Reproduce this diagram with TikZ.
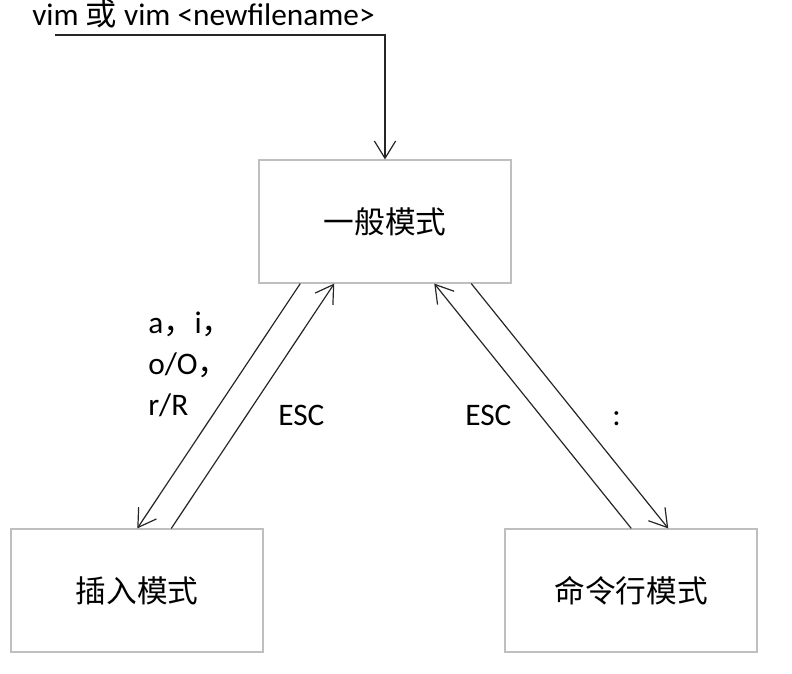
\documentclass[tikz,border=0pt]{standalone}
\usepackage{fontspec}
\setmainfont{Carlito}
\newfontfamily\cjk{Noto Sans CJK SC}
\usetikzlibrary{arrows.meta,calc}
\begin{document}
\begin{tikzpicture}[x=0.75pt,y=-0.75pt,
  modebox/.style={draw=black!25,line width=1.1pt,minimum width=189pt,minimum height=92pt,inner sep=0pt,font=\fontsize{23}{27}\cjk},
  conn/.style={draw=black!85,line width=0.9pt,-{Straight Barb[length=13pt,width=16pt,line width=0.9pt]}},
  lbl/.style={font=\fontsize{23.5}{28}\selectfont,inner sep=0pt}]
\useasboundingbox (0,0) rectangle (792,674);
\node[lbl,anchor=base west] (title) at (32,26) {vim {\cjk 或} vim <newfilename>};
\node[modebox] (normal) at (385,221.5) {一般模式};
\node[modebox] (insert) at (137,590.5) {插入模式};
\node[modebox] (cmd) at (631,590.5) {命令行模式};
\coordinate (start) at (55,35);
\draw[conn] (start) -- (start -| normal.north) -- (normal.north);
% left pair
\draw[conn] ([xshift=31.5pt]normal.south west) -- ([xshift=95.25pt]insert.north west);
\draw[conn] ([xshift=120.75pt]insert.north west) -- ([xshift=57pt]normal.south west);
% right pair
\draw[conn] ([xshift=95.25pt]cmd.north west) -- ([xshift=132pt]normal.south west);
\draw[conn] ([xshift=159.75pt]normal.south west) -- ([xshift=123pt]cmd.north west);
\node[lbl,anchor=base west] (l1) at (148,333) {a{\cjk ，}i{\cjk ，}};
\node[lbl,anchor=base west] (l2) at (148,374) {o/O{\cjk ，}};
\node[lbl,anchor=base west] (l3) at (148,415) {r/R};
\node[lbl,anchor=base west] (esc1) at (278,425) {ESC};
\node[lbl,anchor=base west] (esc2) at (465,425) {ESC};
\node[lbl,anchor=base west] (colon) at (612,425) {:};
\end{tikzpicture}
\end{document}
